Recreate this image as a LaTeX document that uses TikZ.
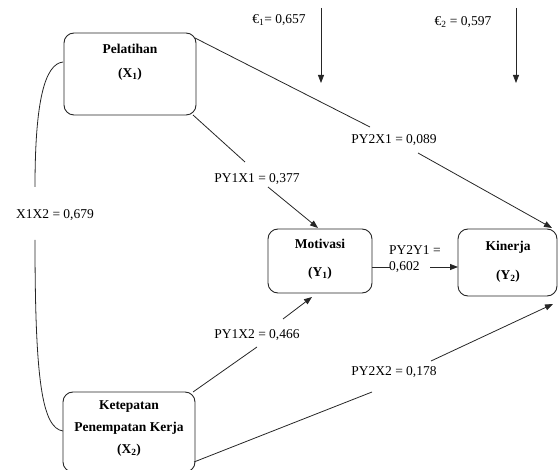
\documentclass[tikz,border=0pt]{standalone}
\usepackage{fontspec}
\setmainfont{Liberation Serif}
\usetikzlibrary{arrows.meta}
\begin{document}
\begin{tikzpicture}[x=1pt,y=-1pt,
  font=\fontsize{13.5}{16}\selectfont,
  box/.style={draw=black!85, line width=0.9pt, rounded corners=10pt, inner sep=0pt},
  btxt/.style={font=\fontsize{13.5}{16}\selectfont\bfseries, inner sep=0pt},
  lbl/.style={inner sep=0pt},
  con/.style={draw=black!85, line width=0.8pt},
  arr/.style={con, -{Triangle[length=8pt,width=6pt]}}]
\useasboundingbox (0,0) rectangle (560,470);
% boxes
\node[box, minimum width=132pt, minimum height=82pt] (p) at (130,74) {};
\node[box, minimum width=132pt, minimum height=80pt] (k) at (129,432) {};
\node[box, minimum width=104pt, minimum height=64pt] (m) at (320,261) {};
\node[box, minimum width=99pt, minimum height=67pt] (n) at (507.5,262.5) {};
% box texts
\node[btxt] (pt1) at (130,49) {Pelatihan};
\node[btxt] (pt2) at (130,74) {(X\textsubscript{1})};
\node[btxt] (kt1) at (129,407) {Ketepatan};
\node[btxt] (kt2) at (129,428) {Penempatan Kerja};
\node[btxt] (kt3) at (129,450) {(X\textsubscript{2})};
\node[btxt] (mt1) at (320,244) {Motivasi};
\node[btxt] (mt2) at (320,273) {(Y\textsubscript{1})};
\node[btxt] (nt1) at (508,247) {Kinerja};
\node[btxt] (nt2) at (508,276) {(Y\textsubscript{2})};
% labels
\node[lbl] (e1) at (279,20) {€\textsubscript{1}= 0,657};
\node[lbl] (e2) at (463,22) {€\textsubscript{2} = 0,597};
\node[lbl] (l21) at (394,140) {PY2X1 = 0,089};
\node[lbl] (l11) at (257,179) {PY1X1 = 0,377};
\node[lbl] (lxx) at (55,215) {X1X2 = 0,679};
\node[lbl] (l12) at (257,335) {PY1X2 = 0,466};
\node[lbl] (l22) at (394,372) {PY2X2 = 0,178};
\node[lbl, anchor=west, align=left] (ly) at (389,259.5) {PY2Y1 =\\0,602};
% coordinates
\coordinate (e1a) at (321,8); \coordinate (e1b) at (321,83);
\coordinate (e2a) at (516,8); \coordinate (e2b) at (516,83);
\coordinate (a1) at (195,38);  \coordinate (a2) at (370,127);
\coordinate (a3) at (418,153); \coordinate (a4) at (552,228);
\coordinate (b1) at (193,115); \coordinate (b2) at (245,162);
\coordinate (b3) at (268,187); \coordinate (b4) at (318,228);
\coordinate (c1) at (63,62);   \coordinate (c2) at (35,187);
\coordinate (c3) at (35,240);  \coordinate (c4) at (63,431);
\coordinate (d1) at (193,392); \coordinate (d2) at (257,347);
\coordinate (d3) at (283,319); \coordinate (d4) at (312,297);
\coordinate (f1) at (194,462); \coordinate (f2) at (372,392);
\coordinate (f3) at (431,361); \coordinate (f4) at (553,304);
\coordinate (g1) at (372,267); \coordinate (g2) at (390,267);
\coordinate (g3) at (430,267); \coordinate (g4) at (458,267);
% connectors
\draw[arr] (e1a) -- (e1b);
\draw[arr] (e2a) -- (e2b);
\draw[con] (a1) -- (a2);
\draw[arr] (a3) -- (a4);
\draw[con] (b1) -- (b2);
\draw[arr] (b3) -- (b4);
\draw[con] (c1) .. controls (45,64) and (35,100) .. (c2);
\draw[con] (c3) .. controls (35,380) and (42,428) .. (c4);
\draw[con] (d1) -- (d2);
\draw[arr] (d3) -- (d4);
\draw[con] (f1) -- (f2);
\draw[arr] (f3) -- (f4);
\draw[con] (g1) -- (g2);
\draw[arr] (g3) -- (g4);
\end{tikzpicture}
\end{document}
